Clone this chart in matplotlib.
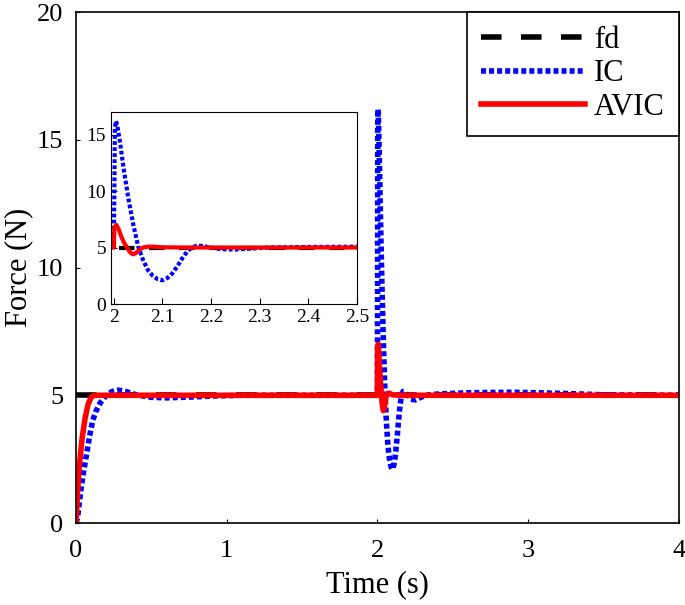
import matplotlib
matplotlib.use("Agg")
import matplotlib.pyplot as plt

plt.rcParams['font.family'] = ['Liberation Serif', 'DejaVu Serif']

# reference force
fd_t = [0.0, 4.0]
fd_f = [5.0, 5.0]

# IC response
ic_t = [0.0, 0.01, 0.03, 0.05, 0.07, 0.09, 0.11, 0.13, 0.16, 0.20, 0.24, 0.28,
        0.33, 0.40, 0.50, 0.60, 0.75, 0.90, 1.10, 1.40, 1.70, 2.00,
        2.001, 2.002, 2.004, 2.007, 2.012, 2.02, 2.03, 2.04, 2.05, 2.06, 2.07,
        2.08, 2.09, 2.10, 2.11, 2.12, 2.13, 2.14, 2.15, 2.16, 2.17, 2.18, 2.20,
        2.22, 2.25, 2.28, 2.32, 2.40, 2.60, 2.90, 3.20, 3.50, 4.00]
ic_f = [0.0, 0.2, 1.2, 2.0, 2.7, 3.4, 4.0, 4.35, 4.7, 5.0, 5.15, 5.2,
        5.15, 5.02, 4.92, 4.9, 4.93, 4.97, 5.0, 5.0, 5.0, 5.0,
        10.0, 15.5, 16.2, 15.8, 14.5, 12.0, 9.3, 7.0, 5.1, 3.9, 3.0,
        2.5, 2.2, 2.1, 2.3, 2.7, 3.3, 4.0, 4.6, 5.0, 5.15, 5.15, 5.0,
        4.85, 4.82, 4.9, 5.0, 5.05, 5.1, 5.12, 5.08, 5.02, 5.0]

# AVIC response
avic_t = [0.0, 0.01, 0.02, 0.04, 0.06, 0.08, 0.10, 0.12, 0.2, 0.5, 1.0, 1.5, 2.0,
          2.001, 2.005, 2.01, 2.015, 2.02, 2.027, 2.033, 2.039, 2.045, 2.05,
          2.055, 2.06, 2.07, 2.08, 2.10, 2.15, 4.0]
avic_f = [0.0, 1.2, 2.1, 3.3, 4.1, 4.65, 4.92, 5.0, 5.0, 5.0, 5.0, 5.0, 5.0,
          6.8, 7.0, 6.6, 6.0, 5.5, 5.0, 4.6, 4.4, 4.5, 4.7,
          4.88, 5.0, 5.08, 5.08, 5.02, 5.0, 5.0]

DASH = (0, (3.7, 3.5))
DOT = (0, (0.9, 0.55))


def draw_lines(ax, lw):
    ax.plot(fd_t, fd_f, color='black', lw=lw, linestyle=DASH, label='fd')
    ax.plot(ic_t, ic_f, color='blue', lw=lw, linestyle=DOT, label='IC')
    ax.plot(avic_t, avic_f, color='red', lw=lw, label='AVIC')


fig = plt.figure(figsize=(6.85, 6.05), dpi=100)
ax = fig.add_axes([0.111, 0.1355, 0.880, 0.8445])
draw_lines(ax, 4)
ax.set_xlim(0, 4)
ax.set_ylim(0, 20)
ax.set_xticks([0, 1, 2, 3, 4])
ax.set_yticks([0, 5, 10, 15, 20])
ax.tick_params(direction='in', labelsize=19, length=3)
ax.tick_params(axis='x', pad=12)
ax.tick_params(axis='y', pad=9)
ax.set_xlabel('Time (s)', fontsize=22, labelpad=6)
ax.set_ylabel('Force (N)', fontsize=22, labelpad=3)
for s in ax.spines.values():
    s.set_linewidth(1.2)

leg = ax.legend(loc='upper right', borderaxespad=0, fontsize=22,
                handlelength=3.4, labelspacing=0.15, fancybox=False,
                framealpha=1, edgecolor='black', borderpad=0.45,
                handletextpad=0.3)
leg.get_frame().set_linewidth(1.2)

# inset zoom around t = 2 s
ins = fig.add_axes([0.162, 0.4975, 0.359, 0.3175])
draw_lines(ins, 3)
ins.set_xlim(1.994, 2.5)
ins.set_ylim(0, 17)
ins.set_xticks([2, 2.1, 2.2, 2.3, 2.4, 2.5])
ins.set_xticklabels(['2', '2.1', '2.2', '2.3', '2.4', '2.5'])
ins.set_yticks([0, 5, 10, 15])
ins.tick_params(direction='in', labelsize=14, length=4)

fig.savefig('out.png', dpi=100)
